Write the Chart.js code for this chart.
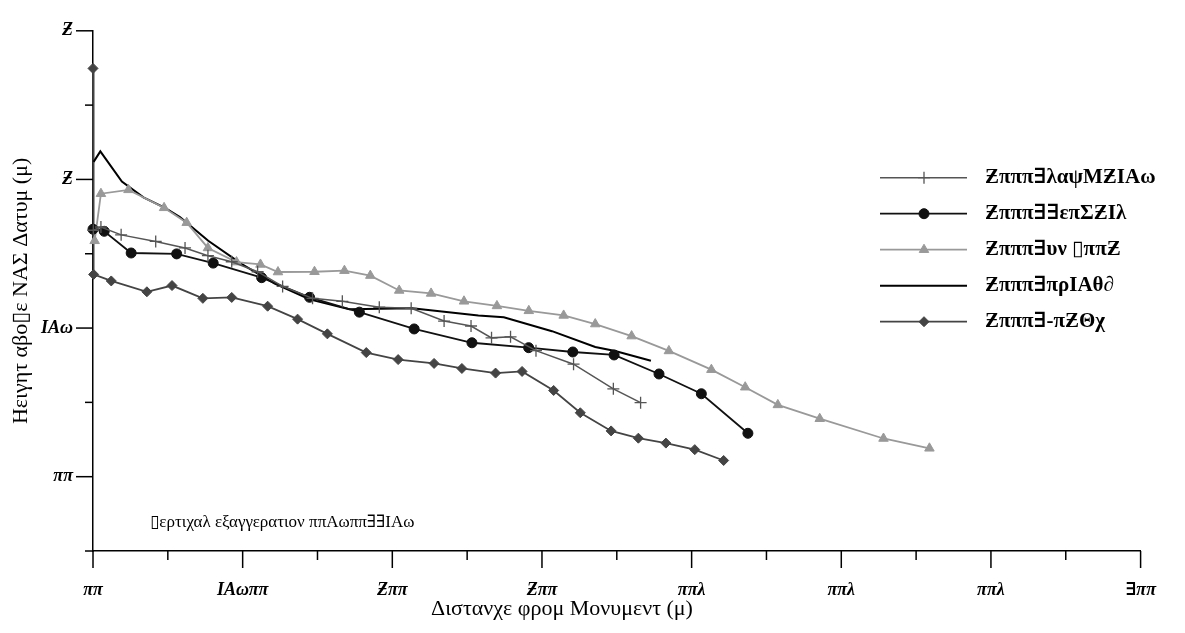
<!DOCTYPE html>
<html><head><meta charset="utf-8">
<script src="https://cdn.jsdelivr.net/npm/chart.js@4"></script>
<style>html,body{margin:0;padding:0;background:#fff}</style>
</head><body>
<canvas id="c" width="1185" height="633"></canvas>
<script>
// ---- data (x: distance in axis units, y: height in axis units) ----
const xTickLabels = ['ππ', 'ΙΑωππ', 'Ƶππ', 'Ƶππ', 'ππλ', 'ππλ', 'ππλ', '∃ππ'];
const yTickLabels = ['ππ', 'ΙΑω', 'Ƶ', 'Ƶ'];
const seriesNames = ['Ƶπππ∃λαψΜƵΙΑω', 'Ƶπππ∃∃επΣƵΙλ', 'Ƶπππ∃υν ▯ππƵ', 'Ƶπππ∃πρΙΑθ∂', 'Ƶπππ∃-πƵΘχ'];
const yTitle = 'Ηειγητ αβο▯ε ΝΑΣ Δατυμ (μ)';
const xTitle = 'Διστανχε φρομ Μονυμεντ (μ)';
const noteText = '▯ερτιχαλ εξαγγερατιον ππΑωππ∃∃ΙΑω';

const plusX = [0.002, 0.053, 0.188, 0.419, 0.615, 0.768, 0.927, 1.100, 1.267, 1.467, 1.666, 1.913, 2.126, 2.346, 2.526, 2.663, 2.790, 2.960, 3.211, 3.477, 3.659];
const plusY = [1.658, 1.680, 1.627, 1.583, 1.539, 1.487, 1.446, 1.379, 1.280, 1.200, 1.180, 1.140, 1.133, 1.047, 1.014, 0.934, 0.941, 0.848, 0.757, 0.591, 0.498];

const circX = [0.000, 0.075, 0.255, 0.559, 0.803, 1.127, 1.447, 1.780, 2.146, 2.532, 2.911, 3.206, 3.482, 3.782, 4.065, 4.376];
const circY = [1.665, 1.651, 1.505, 1.499, 1.437, 1.339, 1.207, 1.107, 0.994, 0.901, 0.868, 0.839, 0.819, 0.691, 0.558, 0.292];

const triX = [0.011, 0.053, 0.237, 0.475, 0.626, 0.768, 0.959, 1.119, 1.236, 1.480, 1.680, 1.853, 2.046, 2.259, 2.479, 2.699, 2.912, 3.145, 3.356, 3.599, 3.848, 4.132, 4.358, 4.576, 4.856, 5.282, 5.589];
const triY = [1.587, 1.904, 1.930, 1.809, 1.709, 1.539, 1.444, 1.428, 1.377, 1.379, 1.386, 1.353, 1.253, 1.233, 1.180, 1.149, 1.116, 1.085, 1.027, 0.946, 0.846, 0.720, 0.602, 0.483, 0.390, 0.257, 0.191];

const lineX = [0.004, 0.049, 0.193, 0.337, 0.481, 0.581, 0.770, 0.992, 1.214, 1.447, 1.713, 2.133, 2.575, 2.745, 3.067, 3.356, 3.489, 3.728];
const lineY = [2.118, 2.189, 1.985, 1.879, 1.809, 1.746, 1.587, 1.432, 1.299, 1.193, 1.127, 1.133, 1.085, 1.072, 0.979, 0.873, 0.846, 0.780];

const diaX = [0.000, 0.004, 0.122, 0.360, 0.528, 0.734, 0.927, 1.167, 1.367, 1.566, 1.826, 2.039, 2.279, 2.465, 2.690, 2.867, 3.078, 3.256, 3.462, 3.644, 3.828, 4.021, 4.214];
const diaY = [2.747, 1.361, 1.317, 1.244, 1.286, 1.200, 1.206, 1.147, 1.060, 0.961, 0.835, 0.788, 0.762, 0.728, 0.697, 0.708, 0.580, 0.430, 0.308, 0.259, 0.226, 0.182, 0.109];

const pts = (xs, ys) => xs.map((x, i) => ({x: x, y: ys[i]}));

const serif = "'Liberation Serif', 'DejaVu Serif', serif";
const tickFont = {family: serif, size: 18, weight: 'bold', style: 'italic'};

const tickPlugin = {
  id: 'ticksAndText',
  afterDraw(chart) {
    const ctx = chart.ctx;
    const xs = chart.scales.x, ys = chart.scales.y;
    const area = chart.chartArea;
    ctx.save();
    ctx.strokeStyle = '#000';
    ctx.lineWidth = 1.5;
    // y ticks
    for (let v = -0.5; v <= 3.0001; v += 0.5) {
      const py = ys.getPixelForValue(v);
      const len = Math.abs(v - Math.round(v)) < 1e-6 ? 17 : 8;
      ctx.beginPath();
      ctx.moveTo(area.left, py);
      ctx.lineTo(area.left - len, py);
      ctx.stroke();
    }
    // x ticks
    for (let v = 0; v <= 7.0001; v += 0.5) {
      const px = xs.getPixelForValue(v);
      const len = Math.abs(v - Math.round(v)) < 1e-6 ? 17 : 9;
      ctx.beginPath();
      ctx.moveTo(px, area.bottom);
      ctx.lineTo(px, area.bottom + len);
      ctx.stroke();
    }
    // x title
    ctx.fillStyle = '#000';
    ctx.font = "22px " + serif;
    ctx.textAlign = 'center';
    ctx.textBaseline = 'middle';
    ctx.fillText(xTitle, 562, 609);
    // note
    ctx.font = "17px " + serif;
    ctx.textAlign = 'left';
    ctx.fillText(noteText, 150, 523);
    // legend
    chart.data.datasets.forEach((ds, i) => {
      const y = 177.7 + i * 36;
      ctx.strokeStyle = ds.borderColor;
      ctx.lineWidth = ds.borderWidth;
      ctx.beginPath();
      ctx.moveTo(880, y);
      ctx.lineTo(967, y);
      ctx.stroke();
      if (ds.pointRadius > 0) {
        ctx.fillStyle = ds.pointBackgroundColor;
        ctx.strokeStyle = ds.pointBorderColor;
        ctx.lineWidth = ds.pointBorderWidth;
        Chart.helpers.drawPoint(ctx, {pointStyle: ds.pointStyle, radius: ds.pointRadius, rotation: 0, borderWidth: ds.pointBorderWidth}, 924, y);
      }
      ctx.fillStyle = '#000';
      ctx.font = "bold 21px " + serif;
      ctx.textAlign = 'left';
      ctx.textBaseline = 'middle';
      ctx.fillText(seriesNames[i], 985, y);
    });
    ctx.restore();
  }
};

new Chart(document.getElementById('c'), {
  type: 'scatter',
  data: {
    datasets: [
      {label: seriesNames[0], data: pts(plusX, plusY), showLine: true, borderColor: '#555', borderWidth: 1.5,
       pointStyle: 'cross', pointRadius: 6, pointBorderColor: '#555', pointBackgroundColor: '#555', pointBorderWidth: 1.3, clip: false},
      {label: seriesNames[1], data: pts(circX, circY), showLine: true, borderColor: '#111', borderWidth: 1.8,
       pointStyle: 'circle', pointRadius: 5, pointBorderColor: '#111', pointBackgroundColor: '#111', pointBorderWidth: 1, clip: false},
      {label: seriesNames[2], data: pts(triX, triY), showLine: true, borderColor: '#999', borderWidth: 1.8,
       pointStyle: 'triangle', pointRadius: 5.5, pointBorderColor: '#999', pointBackgroundColor: '#999', pointBorderWidth: 1, clip: false},
      {label: seriesNames[3], data: pts(lineX, lineY), showLine: true, borderColor: '#000', borderWidth: 2,
       pointStyle: 'circle', pointRadius: 0, pointBorderColor: '#000', pointBackgroundColor: '#000', pointBorderWidth: 0, clip: false},
      {label: seriesNames[4], data: pts(diaX, diaY), showLine: true, borderColor: '#444', borderWidth: 1.8,
       pointStyle: 'rectRot', pointRadius: 5, pointBorderColor: '#444', pointBackgroundColor: '#444', pointBorderWidth: 1, clip: false}
    ]
  },
  options: {
    responsive: false,
    devicePixelRatio: 1,
    animation: false,
    events: [],
    layout: {padding: {top: 24, right: 41, left: 0, bottom: 0}},
    plugins: {legend: {display: false}, tooltip: {enabled: false}},
    elements: {line: {tension: 0}},
    scales: {
      x: {
        type: 'linear', min: 0, max: 7,
        afterFit(s) { s.height = 82; },
        grid: {display: false, drawTicks: false},
        border: {display: true, color: '#000', width: 1.5},
        ticks: {stepSize: 0.5, autoSkip: false, maxRotation: 0, padding: 29, color: '#000', font: tickFont,
          callback: v => (Math.abs(v - Math.round(v)) < 1e-6 ? xTickLabels[Math.round(v)] : '')}
      },
      y: {
        type: 'linear', min: -0.5, max: 3,
        afterFit(s) { s.width = 93; },
        grid: {display: false, drawTicks: false},
        border: {display: true, color: '#000', width: 1.5},
        title: {display: true, text: yTitle, color: '#000', font: {family: serif, size: 22}, padding: {top: 8, bottom: 0}},
        ticks: {stepSize: 0.5, autoSkip: false, padding: 20, color: '#000', font: tickFont,
          callback: v => (Math.abs(v - Math.round(v)) < 1e-6 && v >= 0 ? yTickLabels[Math.round(v)] : '')}
      }
    }
  },
  plugins: [tickPlugin]
});
</script>
</body></html>
